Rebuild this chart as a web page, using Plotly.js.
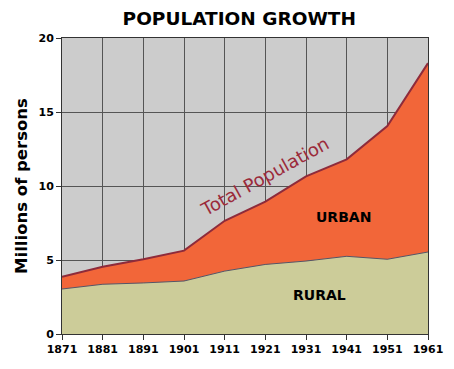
<!DOCTYPE html>
<html>
<head>
<meta charset="utf-8">
<script src="https://cdn.plot.ly/plotly-3.0.1.min.js"></script>
<style>html,body{margin:0;padding:0;background:#fff;}#chart{width:454px;height:369px;}</style>
</head>
<body>
<div id="chart"></div>
<script>
const years = [1871, 1881, 1891, 1901, 1911, 1921, 1931, 1941, 1951, 1961];
const rural = [3.04, 3.36, 3.45, 3.58, 4.25, 4.7, 4.93, 5.25, 5.05, 5.54];
const total = [3.87, 4.55, 5.05, 5.63, 7.65, 8.94, 10.65, 11.8, 14.05, 18.3];
const yTicks = [0, 5, 10, 15, 20];

const font = "DejaVu Sans, Verdana, sans-serif";

const traces = [
  {x: years, y: rural, type: 'scatter', mode: 'lines', fill: 'tozeroy',
   fillcolor: '#cccc99', line: {color: '#555566', width: 1}, hoverinfo: 'skip'},
  {x: years, y: total, type: 'scatter', mode: 'lines', fill: 'tonexty',
   fillcolor: '#f26639', line: {color: '#8e2b3b', width: 2}, hoverinfo: 'skip'}
];

const layout = {
  width: 454, height: 369,
  margin: {l: 62, r: 26, t: 38, b: 35},
  paper_bgcolor: '#ffffff', plot_bgcolor: '#cccccc',
  showlegend: false,
  title: {text: '<b>POPULATION GROWTH</b>', font: {family: font, size: 18.5, color: '#000'},
          x: 0.527, xanchor: 'center', y: 0.95, yanchor: 'middle'},
  xaxis: {range: [1871, 1961], tickvals: years, ticktext: years.map(String),
          showgrid: true, gridcolor: '#555555', gridwidth: 1,
          showline: true, linecolor: '#333333', linewidth: 1, mirror: true,
          ticks: 'outside', ticklen: 5, tickcolor: '#333333',
          tickfont: {family: font, size: 11, color: '#000', weight: 'bold'}, zeroline: false, fixedrange: true},
  yaxis: {range: [0, 20], tickvals: yTicks,
          showgrid: true, gridcolor: '#555555', gridwidth: 1,
          showline: true, linecolor: '#333333', linewidth: 1, mirror: true,
          ticks: 'outside', ticklen: 5, tickcolor: '#333333',
          tickfont: {family: font, size: 11, color: '#000', weight: 'bold'}, zeroline: false,
          title: {text: '<b>Millions of persons</b>', font: {family: font, size: 16.5, color: '#000'}, standoff: 6},
          fixedrange: true},
  annotations: [
    {x: 1920.8, y: 10.65, text: 'Total Population', showarrow: false, textangle: -29,
     font: {family: font, size: 18, color: '#9b2a3a'}},
    {x: 1940.3, y: 7.9, text: '<b>URBAN</b>', showarrow: false,
     font: {family: font, size: 14, color: '#000'}},
    {x: 1934.4, y: 2.64, text: '<b>RURAL</b>', showarrow: false,
     font: {family: font, size: 14, color: '#000'}}
  ]
};

Plotly.newPlot('chart', traces, layout, {displayModeBar: false, staticPlot: true});
</script>
</body>
</html>
